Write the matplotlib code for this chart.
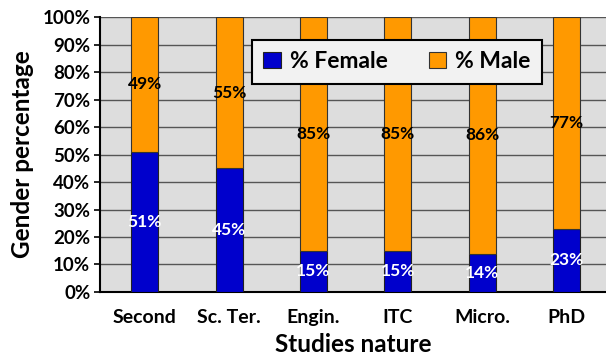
import numpy as np
import matplotlib
matplotlib.use("Agg")
import matplotlib.pyplot as plt
from matplotlib.ticker import PercentFormatter

# Data
categories = ["Second", "Sc. Ter.", "Engin.", "ITC", "Micro.", "PhD"]
female_pct = [51, 45, 15, 15, 14, 23]
male_pct = [49, 55, 85, 85, 86, 77]

plt.rcParams['font.family'] = ['Lato', 'DejaVu Sans']

fig = plt.figure(figsize=(6.06, 3.63), dpi=100)
ax = fig.add_axes([0.165, 0.1956, 0.835, 0.7575])
ax.set_facecolor('#DDDDDD')

x = np.arange(len(categories))
w = 0.32
female = np.array(female_pct)
male = np.array(male_pct)

ax.bar(x, female, w, color='#0000CC', edgecolor='#222222', linewidth=0.8,
       label='% Female', zorder=3)
ax.bar(x, male, w, bottom=female, color='#FF9900', edgecolor='#333333',
       linewidth=0.8, label='% Male', zorder=3)

# value labels centred in each segment
for xi, f, m in zip(x, female, male):
    ax.text(xi, f / 2, f"{f}%", ha='center', va='center', color='white',
            fontsize=12.5, fontweight='bold', zorder=4)
    ax.text(xi, f + m / 2, f"{m}%", ha='center', va='center', color='black',
            fontsize=12.5, fontweight='bold', zorder=4)

ax.set_xlim(-0.53, 5.47)
ax.set_ylim(0, 100)
ax.set_yticks(np.arange(0, 101, 10))
ax.yaxis.set_major_formatter(PercentFormatter(decimals=0))
ax.set_xticks(x)
ax.set_xticklabels(categories)

ax.grid(axis='y', color='#555555', linewidth=1.0, zorder=0)
ax.set_axisbelow(True)

for s in ['top', 'right']:
    ax.spines[s].set_visible(False)
ax.spines['left'].set_linewidth(1.5)
ax.spines['bottom'].set_linewidth(1.5)

ax.tick_params(axis='y', length=4, width=1.2, direction='out', labelsize=13.5, pad=3)
ax.tick_params(axis='x', length=0, labelsize=14, pad=12)
for lab in ax.get_yticklabels() + ax.get_xticklabels():
    lab.set_fontweight('bold')

ax.set_ylabel('Gender percentage', fontsize=17.5, fontweight='bold', labelpad=6)
ax.set_xlabel('Studies nature', fontsize=17.5, fontweight='bold', labelpad=5)

leg = ax.legend(loc='center', bbox_to_anchor=(0.587, 0.838), ncol=2,
                prop={'weight': 'bold', 'size': 16.5},
                fancybox=False, framealpha=1, facecolor='#F2F2F2',
                edgecolor='black', handlelength=0.75, handleheight=0.75,
                handletextpad=0.4, columnspacing=1.8, borderpad=0.5)
leg.get_frame().set_linewidth(1.5)
leg.set_zorder(5)

fig.savefig('out.png', dpi=100)
